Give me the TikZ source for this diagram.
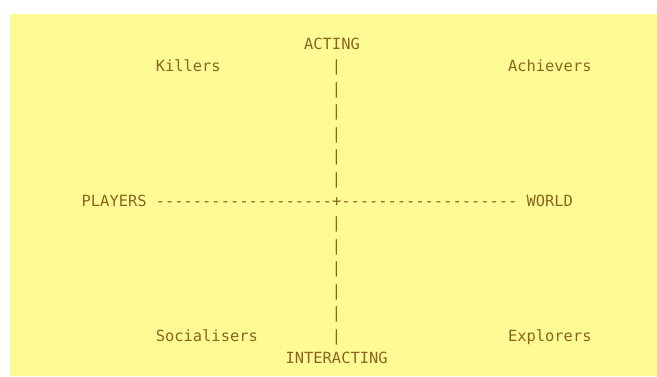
\documentclass[tikz,border=0pt]{standalone}
\usepackage{fontspec}
\newfontfamily\asciifont{DejaVu Sans Mono}[Ligatures=TeXOff]
\definecolor{bgyellow}{HTML}{FFFB94}
\definecolor{inkbrown}{HTML}{8B6420}
\begin{document}
\begin{tikzpicture}[x=1pt,y=-1pt,
  asc/.style={font=\asciifont\fontsize{15.4}{18}\selectfont, text=inkbrown, inner sep=0pt, anchor=base west}]
\useasboundingbox (0,0) rectangle (657,376);
\fill[bgyellow] (10,14) rectangle (657,376);
\def\cw{9.27}
\def\xo{81.5}
\def\lh{22.43}
\def\yo{49.5}
\node[asc] (acting) at ({\xo+24*\cw},{\yo+0*\lh}) {ACTING};
\node[asc] (killers) at ({\xo+8*\cw},{\yo+1*\lh}) {Killers};
\node[asc] (achievers) at ({\xo+46*\cw},{\yo+1*\lh}) {Achievers};
\foreach \r in {1,2,3,4,5,6,8,9,10,11,12,13}
  \node[asc] (bar\r) at ({\xo+27*\cw},{\yo+\r*\lh}) {|};
\node[asc] (players) at ({\xo+0*\cw},{\yo+7*\lh}) {PLAYERS};
\node[asc] (axis) at ({\xo+8*\cw},{\yo+7*\lh}) {-------------------+-------------------};
\node[asc] (world) at ({\xo+48*\cw},{\yo+7*\lh}) {WORLD};
\node[asc] (socialisers) at ({\xo+8*\cw},{\yo+13*\lh}) {Socialisers};
\node[asc] (explorers) at ({\xo+46*\cw},{\yo+13*\lh}) {Explorers};
\node[asc] (interacting) at ({\xo+22*\cw},{\yo+14*\lh}) {INTERACTING};
\end{tikzpicture}
\end{document}
